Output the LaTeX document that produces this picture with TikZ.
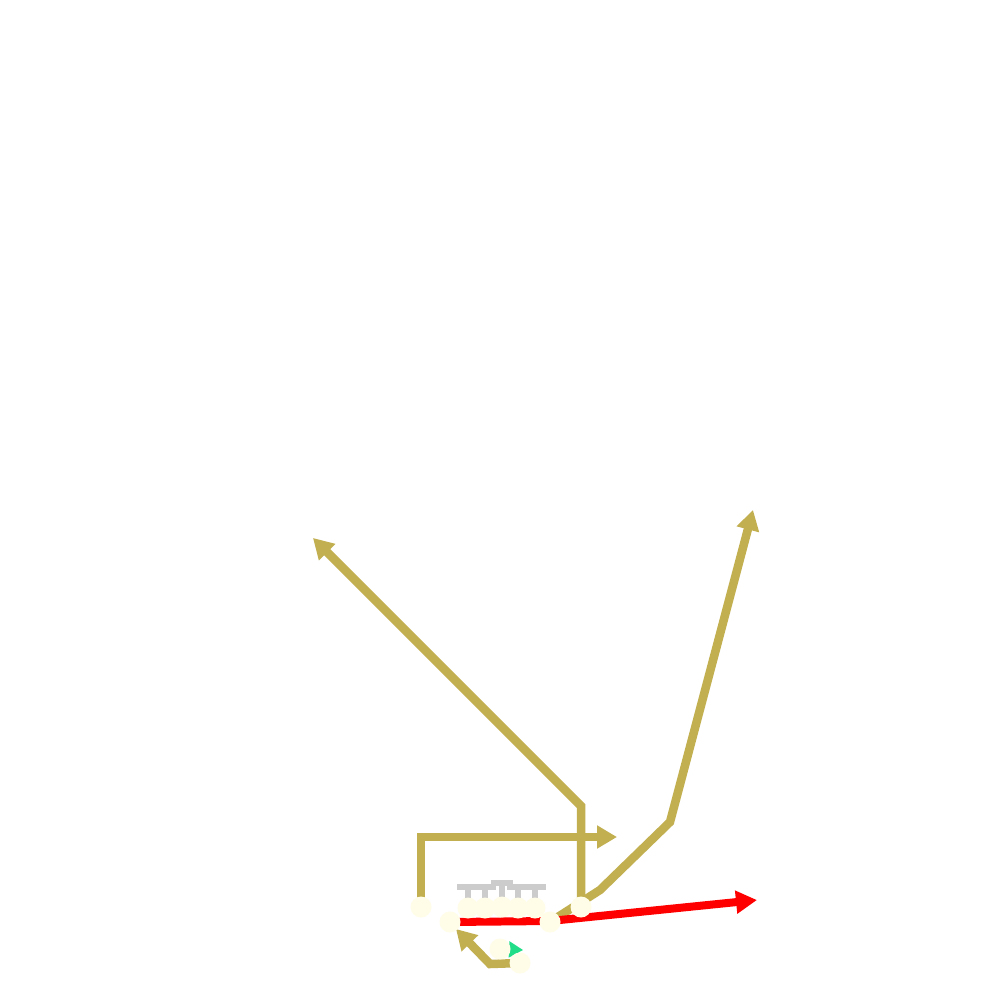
\documentclass[tikz,border=0pt]{standalone}
\usetikzlibrary{arrows.meta}
\pgfdeclarelayer{background}
\pgfdeclarelayer{marks}
\pgfsetlayers{background,marks,main}
\definecolor{gold}{RGB}{194,175,80}
\definecolor{ivory}{RGB}{255,253,232}
\definecolor{blockgray}{RGB}{204,204,204}
\definecolor{motion}{RGB}{34,221,136}
\tikzset{
  player/.style={circle,fill=ivory,draw=none,minimum size=21pt,inner sep=0pt},
  route/.style={draw=gold,line width=8.5pt,line join=miter,-{Triangle[length=20pt,width=22pt]}},
  redroute/.style={draw=red,line width=8pt,line join=miter,-{Triangle[length=21pt,width=22pt]}},
  motionroute/.style={draw=motion,line width=2pt,-{Triangle[length=14pt,width=16pt]}},
  blockmark/.style={draw=blockgray,line width=6pt}
}
\begin{document}
\begin{tikzpicture}[x=1pt,y=-1pt]
\useasboundingbox (0,0) rectangle (1000,1000);
% players
\node[player] (lw) at (421,907) {};
\node[player] (lb) at (450,922) {};
\node[player] (o1) at (468,908) {};
\node[player] (o2) at (485,908) {};
\node[player] (o3) at (502,907) {};
\node[player] (o4) at (518,908) {};
\node[player] (o5) at (535,908) {};
\node[player] (rt) at (550,922) {};
\node[player] (rw) at (581,907) {};
\node[player] (qb) at (500,949) {};
\node[player] (rb) at (520,963) {};
% route end points
\coordinate (t1) at (617,837);
\coordinate (t2) at (313,538);
\coordinate (t3) at (753,510);
\coordinate (t4) at (456,929);
\coordinate (tr) at (757,900);
\coordinate (tm) at (523,950);
\begin{pgfonlayer}{marks}
\foreach \n/\h in {o1/887,o2/887,o4/887,o5/887,o3/883}{
  \draw[blockmark] (\n.center) -- (\n.center |- 0,\h);
  \draw[blockmark] ([xshift=-11pt]\n.center |- 0,\h) -- ([xshift=11pt]\n.center |- 0,\h);
}
\end{pgfonlayer}
\begin{pgfonlayer}{background}
\fill[white] (0,0) rectangle (1000,1000);
\draw[route] (lw.center) -- (lw.center |- t1) -- (t1);
\draw[route] (rw.center) -- (581,806) -- (t2);
\draw[route] (rt.center) -- (600,890) -- (670,822) -- (t3);
\draw[route] (rb.center) -- (490,964) -- (t4);
\draw[redroute] (lb.center) -- (550,921) -- (tr);
\draw[motionroute] (qb.center) -- (tm);
\end{pgfonlayer}
\end{tikzpicture}
\end{document}
